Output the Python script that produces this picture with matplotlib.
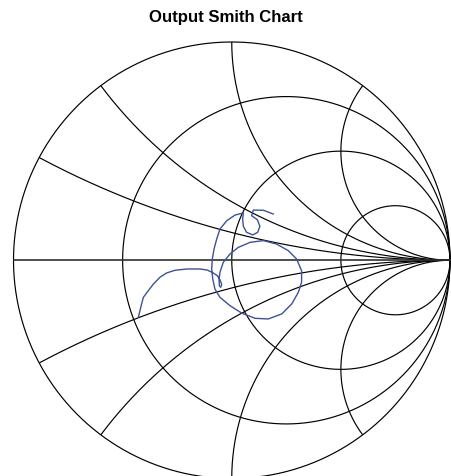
import numpy as np
import matplotlib
matplotlib.use("Agg")
import matplotlib.pyplot as plt
from matplotlib import font_manager

# Reflection coefficient trace (real / imaginary parts of Gamma)
gamma_re = [-0.428, -0.413, -0.405, -0.382, -0.359, -0.329, -0.298, -0.260, -0.206, -0.145,
            -0.112, -0.085, -0.066, -0.054, -0.046, -0.051, -0.057, -0.058, -0.054, -0.039,
            -0.008, 0.030, 0.084, 0.145, 0.206, 0.259, 0.297, 0.320, 0.320, 0.305,
            0.275, 0.229, 0.167, 0.107, 0.045, -0.008, -0.054, -0.077, -0.087, -0.092,
            -0.089, -0.081, -0.069, -0.054, -0.023, 0.015, 0.053, 0.050, 0.053, 0.068,
            0.096, 0.119, 0.129, 0.117, 0.091, 0.099, 0.145, 0.190]
gamma_im = [-0.261, -0.200, -0.170, -0.139, -0.109, -0.078, -0.058, -0.046, -0.040, -0.040,
            -0.045, -0.058, -0.071, -0.089, -0.112, -0.124, -0.116, -0.086, -0.055, -0.010,
            0.029, 0.059, 0.082, 0.090, 0.074, 0.044, 0.006, -0.048, -0.101, -0.147,
            -0.200, -0.246, -0.269, -0.266, -0.242, -0.208, -0.170, -0.132, -0.086, -0.040,
            0.006, 0.052, 0.097, 0.143, 0.181, 0.207, 0.217, 0.189, 0.156, 0.128,
            0.116, 0.128, 0.156, 0.186, 0.204, 0.230, 0.229, 0.212]

# Smith chart grid values
resistances = [0.0, 1/3, 1.0, 3.0]
reactances = [0.25, 0.5, 1.0, 2.0]

title = "Output Smith Chart"

W, H = 451, 477
fig = plt.figure(figsize=(W / 100, H / 100), dpi=100)
ax = fig.add_axes([0, 0, 1, 1])
cx, cy, R = 231.75, 261.25, 218.25
ax.set_xlim((0 - cx) / R, (W - cx) / R)
ax.set_ylim((cy - H) / R, cy / R)
ax.axis("off")

grid_kw = dict(color="black", lw=0.85, solid_capstyle="butt")

def gamma_of(z):
    return (z - 1) / (z + 1)

# resistance circles
t = np.linspace(0, 2 * np.pi, 1500)
for r in resistances:
    c = r / (1 + r)
    rad = 1 / (1 + r)
    ax.plot(c + rad * np.cos(t), rad * np.sin(t), **grid_kw)

# reactance arcs
rr = np.tan(np.linspace(0, np.pi / 2 - 1e-5, 4000))
for x in reactances:
    for s in (1, -1):
        g = gamma_of(rr + 1j * s * x)
        ax.plot(g.real, g.imag, **grid_kw)

# real axis
ax.plot([-1, 1], [0, 0], color="#303030", lw=1.2)

# trace
ax.plot(gamma_re, gamma_im, color="#3f5197", lw=1.0)

# title font: narrow bold if available
narrow = None
for f in font_manager.fontManager.ttflist:
    if "Narrow" in f.name or "Condensed" in f.name:
        if "Liberation" in f.name or "Arial" in f.name:
            narrow = f.name
            break
if narrow is not None:
    fam, size = [narrow, "Liberation Sans", "DejaVu Sans"], 14.6
else:
    fam, size = ["Liberation Sans", "DejaVu Sans"], 12.1

fig.text(0.5, 1 - 17.5 / H, title, ha="center", va="center", fontsize=size,
         fontweight="bold", family=fam)

fig.savefig("out.png", dpi=100)
